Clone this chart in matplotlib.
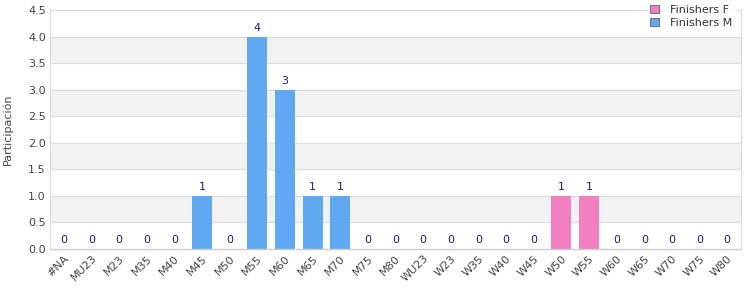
import matplotlib
matplotlib.use("Agg")
import matplotlib.pyplot as plt
import numpy as np

categories = ["#NA", "MU23", "M23", "M35", "M40", "M45", "M50", "M55", "M60", "M65",
              "M70", "M75", "M80", "WU23", "W23", "W35", "W40", "W45", "W50", "W55",
              "W60", "W65", "W70", "W75", "W80"]
finishers_f = [0, 0, 0, 0, 0, 0, 0, 0, 0, 0, 0, 0, 0, 0, 0, 0, 0, 0, 1, 1, 0, 0, 0, 0, 0]
finishers_m = [0, 0, 0, 0, 0, 1, 0, 4, 3, 1, 1, 0, 0, 0, 0, 0, 0, 0, 0, 0, 0, 0, 0, 0, 0]

col_f = "#f27fbf"
col_m = "#60a8f2"
lab_col = "#1c1c7c"
grid_col = "#dcdcdc"

fig = plt.figure(figsize=(7.5, 3.0), dpi=100)
ax = fig.add_axes([50/750, 1 - 249/300, 691/750, 239/300])

x = np.arange(len(categories))
ax.set_xlim(-0.5, len(categories) - 0.5)
ax.set_ylim(0, 4.5)

# alternating bands
for lo in [0.5, 1.5, 2.5, 3.5]:
    ax.axhspan(lo, lo + 0.5, color="#f2f2f2", zorder=0, lw=0)
for y in np.arange(0.5, 4.51, 0.5):
    ax.axhline(y, color=grid_col, lw=0.8, zorder=0.5)

w = 0.72
ax.bar(x, finishers_f, width=w, color=col_f, zorder=2, label="Finishers F")
ax.bar(x, finishers_m, width=w, color=col_m, zorder=2, label="Finishers M")

for i in range(len(categories)):
    v = finishers_f[i] + finishers_m[i]
    ax.text(x[i], v + 0.07, str(v), ha="center", va="bottom", fontsize=8, color=lab_col, zorder=3)

ax.set_yticks(np.arange(0, 4.51, 0.5))
ax.set_yticklabels([f"{v:.1f}" for v in np.arange(0, 4.51, 0.5)], fontsize=8, color="#444444")
ax.set_xticks(x)
ax.set_xticklabels(categories, rotation=45, ha="right", rotation_mode="anchor", fontsize=8, color="#444444")
ax.tick_params(axis="both", length=0, pad=3)
ax.set_ylabel("Participación", fontsize=8, color="#444444", labelpad=11)

for s in ["left", "right", "top"]:
    ax.spines[s].set_color(grid_col)
    ax.spines[s].set_linewidth(0.8)
ax.spines["bottom"].set_color("#cccccc")
ax.spines["bottom"].set_linewidth(1.0)

leg = ax.legend(loc="upper right", bbox_to_anchor=(1.0, 1.06), fontsize=8, frameon=True,
                handlelength=0.8, handleheight=0.8, handletextpad=1.0, borderpad=0.3,
                labelspacing=0.3, fancybox=False)
leg.get_frame().set_facecolor("white")
leg.get_frame().set_edgecolor("white")
for h in leg.legend_handles:
    h.set_edgecolor("#777777")
    h.set_linewidth(0.8)
for t in leg.get_texts():
    t.set_color("#333333")

fig.savefig("out.png", dpi=100)
